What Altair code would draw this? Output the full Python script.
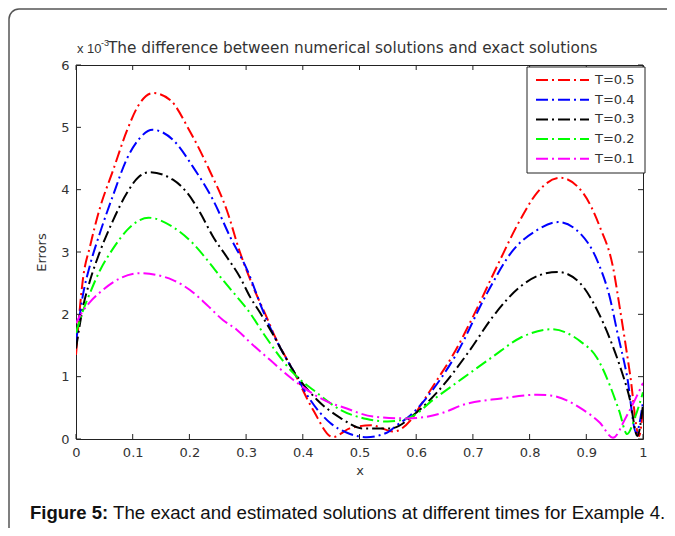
import altair as alt
import pandas as pd
import math

# ---------------- data (errors in units of 1e-3) ----------------
SERIES = ["T=0.5", "T=0.4", "T=0.3", "T=0.2", "T=0.1"]
COLORS = ["#ff0000", "#0000ff", "#000000", "#00ff00", "#ff00ff"]
X_TICKS = [0, 0.1, 0.2, 0.3, 0.4, 0.5, 0.6, 0.7, 0.8, 0.9, 1.0]
Y_TICKS = [0, 1, 2, 3, 4, 5, 6]

T05_X = [0, 0.012, 0.025, 0.042, 0.065, 0.09, 0.11, 0.136, 0.166, 0.2, 0.236, 0.266, 0.289, 0.312,
         0.336, 0.351, 0.383, 0.418, 0.453, 0.483, 0.52, 0.56, 0.59, 0.612, 0.637, 0.665, 0.7,
         0.742, 0.783, 0.813, 0.854, 0.894, 0.924, 0.947, 0.96, 0.977, 0.993, 1.0]
T05_Y = [1.35, 2.55, 3.1, 3.7, 4.3, 4.95, 5.35, 5.55, 5.44, 4.95, 4.3, 3.67, 3.0, 2.45,
         1.96, 1.64, 1.1, 0.47, 0.03, 0.17, 0.22, 0.12, 0.3, 0.6, 0.95, 1.35, 1.96,
         2.76, 3.51, 3.95, 4.19, 3.95, 3.4, 2.76, 2.05, 1.05, 0.05, 0.5]

T04_X = [0, 0.012, 0.025, 0.042, 0.065, 0.09, 0.11, 0.135, 0.171, 0.206, 0.242, 0.272, 0.302,
         0.33, 0.347, 0.383, 0.413, 0.448, 0.478, 0.513, 0.548, 0.566, 0.59, 0.63, 0.672, 0.725,
         0.771, 0.813, 0.85, 0.889, 0.919, 0.942, 0.955, 0.972, 0.988, 1.0]
T04_Y = [1.55, 2.3, 2.8, 3.3, 3.9, 4.5, 4.8, 4.96, 4.8, 4.37, 3.83, 3.24, 2.71,
         2.05, 1.7, 1.1, 0.63, 0.26, 0.1, 0.03, 0.1, 0.22, 0.38, 0.8, 1.38, 2.34,
         3.03, 3.35, 3.48, 3.3, 2.87, 2.25, 1.7, 1.0, 0.1, 0.6]

T03_X = [0, 0.012, 0.025, 0.042, 0.065, 0.09, 0.11, 0.13, 0.171, 0.196, 0.219, 0.242, 0.266,
         0.289, 0.307, 0.325, 0.346, 0.383, 0.425, 0.466, 0.506, 0.554, 0.6, 0.637, 0.695,
         0.735, 0.783, 0.818, 0.85, 0.889, 0.919, 0.942, 0.96, 0.977, 0.99, 1.0]
T03_Y = [1.45, 2.1, 2.55, 3.0, 3.5, 3.95, 4.2, 4.28, 4.16, 3.95, 3.63, 3.24, 2.92,
         2.6, 2.28, 2.02, 1.7, 1.1, 0.63, 0.34, 0.17, 0.17, 0.42, 0.75, 1.43,
         1.96, 2.44, 2.63, 2.68, 2.5, 2.07, 1.6, 1.15, 0.63, 0.05, 0.55]

T02_X = [0, 0.012, 0.025, 0.042, 0.065, 0.09, 0.11, 0.128, 0.171, 0.206, 0.236, 0.259, 0.284,
         0.307, 0.33, 0.383, 0.425, 0.466, 0.513, 0.55, 0.59, 0.63, 0.683, 0.735, 0.783,
         0.838, 0.889, 0.919, 0.942, 0.958, 0.972, 0.986, 1.0]
T02_Y = [1.7, 2.05, 2.35, 2.7, 3.05, 3.35, 3.5, 3.55, 3.4, 3.14, 2.82, 2.55, 2.28,
         2.02, 1.7, 1.06, 0.74, 0.47, 0.32, 0.28, 0.35, 0.63, 0.98, 1.32, 1.62,
         1.76, 1.57, 1.3, 0.85, 0.45, 0.08, 0.35, 0.75]

T01_X = [0, 0.012, 0.025, 0.042, 0.078, 0.113, 0.171, 0.201, 0.231, 0.259, 0.284, 0.307,
         0.342, 0.383, 0.448, 0.471, 0.524, 0.584, 0.647, 0.683, 0.75, 0.813, 0.836, 0.894,
         0.924, 0.947, 0.97, 1.0]
T01_Y = [1.86, 2.05, 2.2, 2.35, 2.58, 2.66, 2.55, 2.39, 2.15, 1.91, 1.75, 1.55,
         1.27, 0.95, 0.58, 0.51, 0.36, 0.33, 0.42, 0.55, 0.65, 0.71, 0.7, 0.47,
         0.26, 0.02, 0.35, 0.9]

TITLE = "The difference between numerical solutions and exact solutions"
CAPTION_BOLD = "Figure 5:"
CAPTION = "The exact and estimated solutions at different times for Example 4."

# ---------------- build ----------------
rows = []
for name, xs, ys in zip(SERIES, [T05_X, T04_X, T03_X, T02_X, T01_X],
                        [T05_Y, T04_Y, T03_Y, T02_Y, T01_Y]):
    for i, (a, b) in enumerate(zip(xs, ys)):
        rows.append({"series": name, "x": a, "err": b, "order": i})
df = pd.DataFrame(rows)

W, H = 567, 374
FONT = "DejaVu Sans"
TXT = "#333333"
DASH = [12, 4, 2, 4]
FRAME = "#555555"

xscale = alt.Scale(domain=[0, 1], nice=False, zero=False)
yscale = alt.Scale(domain=[0, 6], nice=False)
cscale = alt.Scale(domain=SERIES, range=COLORS)

X_AXIS = alt.Axis(values=X_TICKS, format=".1~f", title="x", labelPadding=7, titlePadding=5,
                  labelFlush=False)
Y_AXIS = alt.Axis(values=Y_TICKS, format="d", title="Errors", labelPadding=7, titlePadding=12)

one = pd.DataFrame({"k": [0]})

# page frame: left edge, top edge and rounded top-left corner
FX, FY, FR = -67, -56, 10
frame_left = alt.Chart(one).mark_rule(color=FRAME, strokeWidth=1.5).encode(
    x=alt.value(FX), y=alt.value(FY + FR), y2=alt.value(FY + 600))
frame_top = alt.Chart(one).mark_rule(color=FRAME, strokeWidth=1.5).encode(
    y=alt.value(FY), x=alt.value(FX + FR), x2=alt.value(FX + 800))
frame_corner = alt.Chart(one).mark_arc(
    radius=FR + 0.75, radius2=FR - 0.75, theta=1.5 * math.pi, theta2=2 * math.pi,
    color=FRAME).encode(x=alt.value(FX + FR), y=alt.value(FY + FR))

line_layers = []
for s in SERIES:
    line_layers.append(
        alt.Chart(df).transform_filter(alt.datum.series == s)
        .mark_line(strokeWidth=2, strokeDash=DASH, interpolate="monotone", clip=True)
        .encode(
            x=alt.X("x:Q", scale=xscale, axis=X_AXIS),
            y=alt.Y("err:Q", scale=yscale, axis=Y_AXIS),
            color=alt.Color("series:N", scale=cscale, legend=None),
            order="order:Q",
        )
    )

xt = pd.DataFrame({"x": X_TICKS})
yt = pd.DataFrame({"err": Y_TICKS})
xt_b = alt.Chart(xt).mark_rule(color="#222222").encode(
    x=alt.X("x:Q", scale=xscale, axis=X_AXIS), y=alt.value(H), y2=alt.value(H - 5))
xt_t = alt.Chart(xt).mark_rule(color="#222222").encode(
    x=alt.X("x:Q", scale=xscale, axis=X_AXIS), y=alt.value(0), y2=alt.value(5))
yt_l = alt.Chart(yt).mark_rule(color="#222222").encode(
    y=alt.Y("err:Q", scale=yscale, axis=Y_AXIS), x=alt.value(0), x2=alt.value(5))
yt_r = alt.Chart(yt).mark_rule(color="#222222").encode(
    y=alt.Y("err:Q", scale=yscale, axis=Y_AXIS), x=alt.value(W), x2=alt.value(W - 5))

# legend (inside, north-east)
LX, LY, LW, LH = 451, 2, 118, 106
leg_box = alt.Chart(one).mark_rect(fill="white", stroke="#222222", strokeWidth=1).encode(
    x=alt.value(LX), x2=alt.value(LX + LW), y=alt.value(LY), y2=alt.value(LY + LH))
leg_layers = [leg_box]
for i, (s, c) in enumerate(zip(SERIES, COLORS)):
    yy = LY + 13 + i * 19.7
    d = pd.DataFrame({"series": [s]})
    leg_layers.append(alt.Chart(d).mark_rule(strokeWidth=2, strokeDash=DASH, color=c).encode(
        x=alt.value(LX + 9), x2=alt.value(LX + 62), y=alt.value(yy)))
    leg_layers.append(alt.Chart(d).mark_text(align="left", baseline="middle", font=FONT,
                                             fontSize=13, color=TXT).encode(
        x=alt.value(LX + 68), y=alt.value(yy), text="series:N"))

# title pieces
t1 = alt.Chart(pd.DataFrame({"t": ["x 10"]})).mark_text(
    align="left", baseline="alphabetic", font="Liberation Sans", fontSize=13, color=TXT).encode(
    x=alt.value(1), y=alt.value(-12), text="t:N")
t2 = alt.Chart(pd.DataFrame({"t": ["-3"]})).mark_text(
    align="left", baseline="alphabetic", font="Liberation Sans", fontSize=9, color=TXT).encode(
    x=alt.value(25), y=alt.value(-19), text="t:N")
t3 = alt.Chart(pd.DataFrame({"t": [TITLE]})).mark_text(
    align="left", baseline="alphabetic", font=FONT, fontSize=15.3, color=TXT).encode(
    x=alt.value(32), y=alt.value(-12), text="t:N")

c1 = alt.Chart(pd.DataFrame({"t": [CAPTION_BOLD]})).mark_text(
    align="left", baseline="alphabetic", font="Liberation Sans", fontSize=18.5,
    fontWeight="bold", color="#111111").encode(
    x=alt.value(-46), y=alt.value(454), text="t:N")
c2 = alt.Chart(pd.DataFrame({"t": [CAPTION]})).mark_text(
    align="left", baseline="alphabetic", font="Liberation Sans", fontSize=18.7,
    color="#111111").encode(
    x=alt.value(37), y=alt.value(454), text="t:N")

chart = alt.layer(
    frame_left, frame_top, frame_corner, *line_layers, xt_b, xt_t, yt_l, yt_r,
    *leg_layers, t1, t2, t3, c1, c2
).properties(
    width=W, height=H,
    padding={"left": 68, "top": 57, "right": 24, "bottom": 89},
    autosize=alt.AutoSizeParams(type="none"),
    background="white",
).configure_view(
    stroke="#222222", strokeWidth=1
).configure_axis(
    grid=False, domain=False, ticks=False,
    labelFont=FONT, labelFontSize=13, labelColor=TXT,
    titleFont=FONT, titleFontSize=13, titleFontWeight="normal", titleColor=TXT,
)

chart.save("out.html", embed_options={"renderer": "svg", "actions": False})
